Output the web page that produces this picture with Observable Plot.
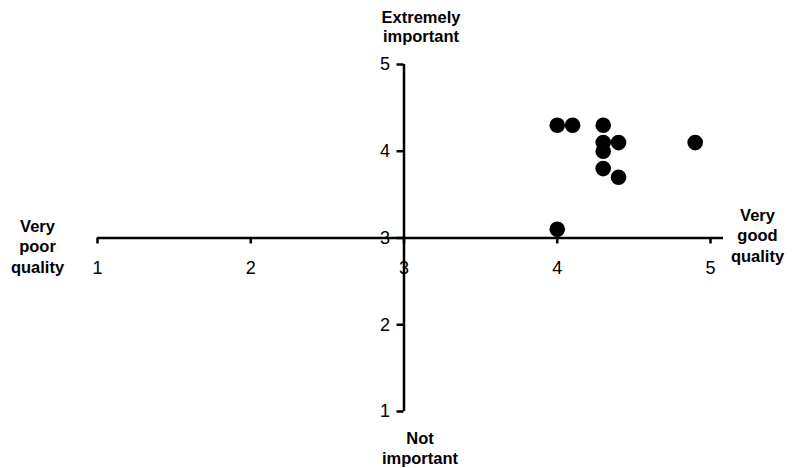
<!DOCTYPE html>
<html><head>
<meta charset="utf-8">
<script src="https://cdn.jsdelivr.net/npm/d3@7"></script>
<script src="https://cdn.jsdelivr.net/npm/@observablehq/plot@0.6"></script>
<style>body{margin:0;background:#fff}</style>
</head><body><div id="chart"></div>
<script>
const quality    = [4.0, 4.1, 4.3, 4.3, 4.4, 4.3, 4.3, 4.4, 4.9, 4.0];
const importance = [4.3, 4.3, 4.3, 4.1, 4.1, 4.0, 3.8, 3.7, 4.1, 3.1];
const xTicks = [1, 2, 3, 4, 5];
const yTicks = [1, 2, 3, 4, 5];
const leftLabel = "Very\npoor\nquality";
const rightLabel = "Very\ngood\nquality";
const topLabel = "Extremely\nimportant";
const bottomLabel = "Not\nimportant";

const points = quality.map((q, i) => ({q, imp: importance[i]}));

const chart = Plot.plot({
  width: 795, height: 468, margin: 0,
  x: {domain: [1, 5], range: [97, 710], axis: null},
  y: {domain: [1, 5], range: [411, 64], axis: null},
  style: {fontFamily: "'Liberation Sans', Arial, sans-serif", color: "black", background: "white"},
  marks: [
    Plot.ruleY([3], {x1: 1, x2: 5, insetRight: -13, stroke: "black", strokeWidth: 2.5}),
    Plot.ruleX([3], {y1: 1, y2: 5, stroke: "black", strokeWidth: 2.5}),
    Plot.ruleX(xTicks, {x: d => d, y1: 3, y2: 3, insetBottom: -6, stroke: "black", strokeWidth: 2.5}),
    Plot.ruleY(yTicks, {y: d => d, x1: 3, x2: 3, insetLeft: -7, stroke: "black", strokeWidth: 2.5}),
    Plot.text(xTicks, {x: d => d, y: 3, dy: 30, text: d => String(d), fontSize: 18, fill: "black"}),
    Plot.text(yTicks, {x: 3, y: d => d, dx: -14, textAnchor: "end", text: d => String(d), fontSize: 18, fill: "black"}),
    Plot.dot(points, {x: "q", y: "imp", r: 7.8, fill: "black", stroke: null}),
    Plot.text([topLabel], {x: 3, y: 5, dx: 17, dy: -38, text: d => d, fontSize: 16.5, fontWeight: "bold", lineHeight: 1.15, fill: "black"}),
    Plot.text([bottomLabel], {x: 3, y: 1, dx: 16, dy: 36, text: d => d, fontSize: 16.5, fontWeight: "bold", lineHeight: 1.2, fill: "black"}),
    Plot.text([leftLabel], {x: 1, y: 3, dx: -60, dy: 8, text: d => d, fontSize: 16.5, fontWeight: "bold", lineHeight: 1.22, fill: "black"}),
    Plot.text([rightLabel], {x: 5, y: 3, dx: 47, dy: -3, text: d => d, fontSize: 16.5, fontWeight: "bold", lineHeight: 1.22, fill: "black"})
  ]
});
document.getElementById("chart").appendChild(chart);
</script>
</body></html>
